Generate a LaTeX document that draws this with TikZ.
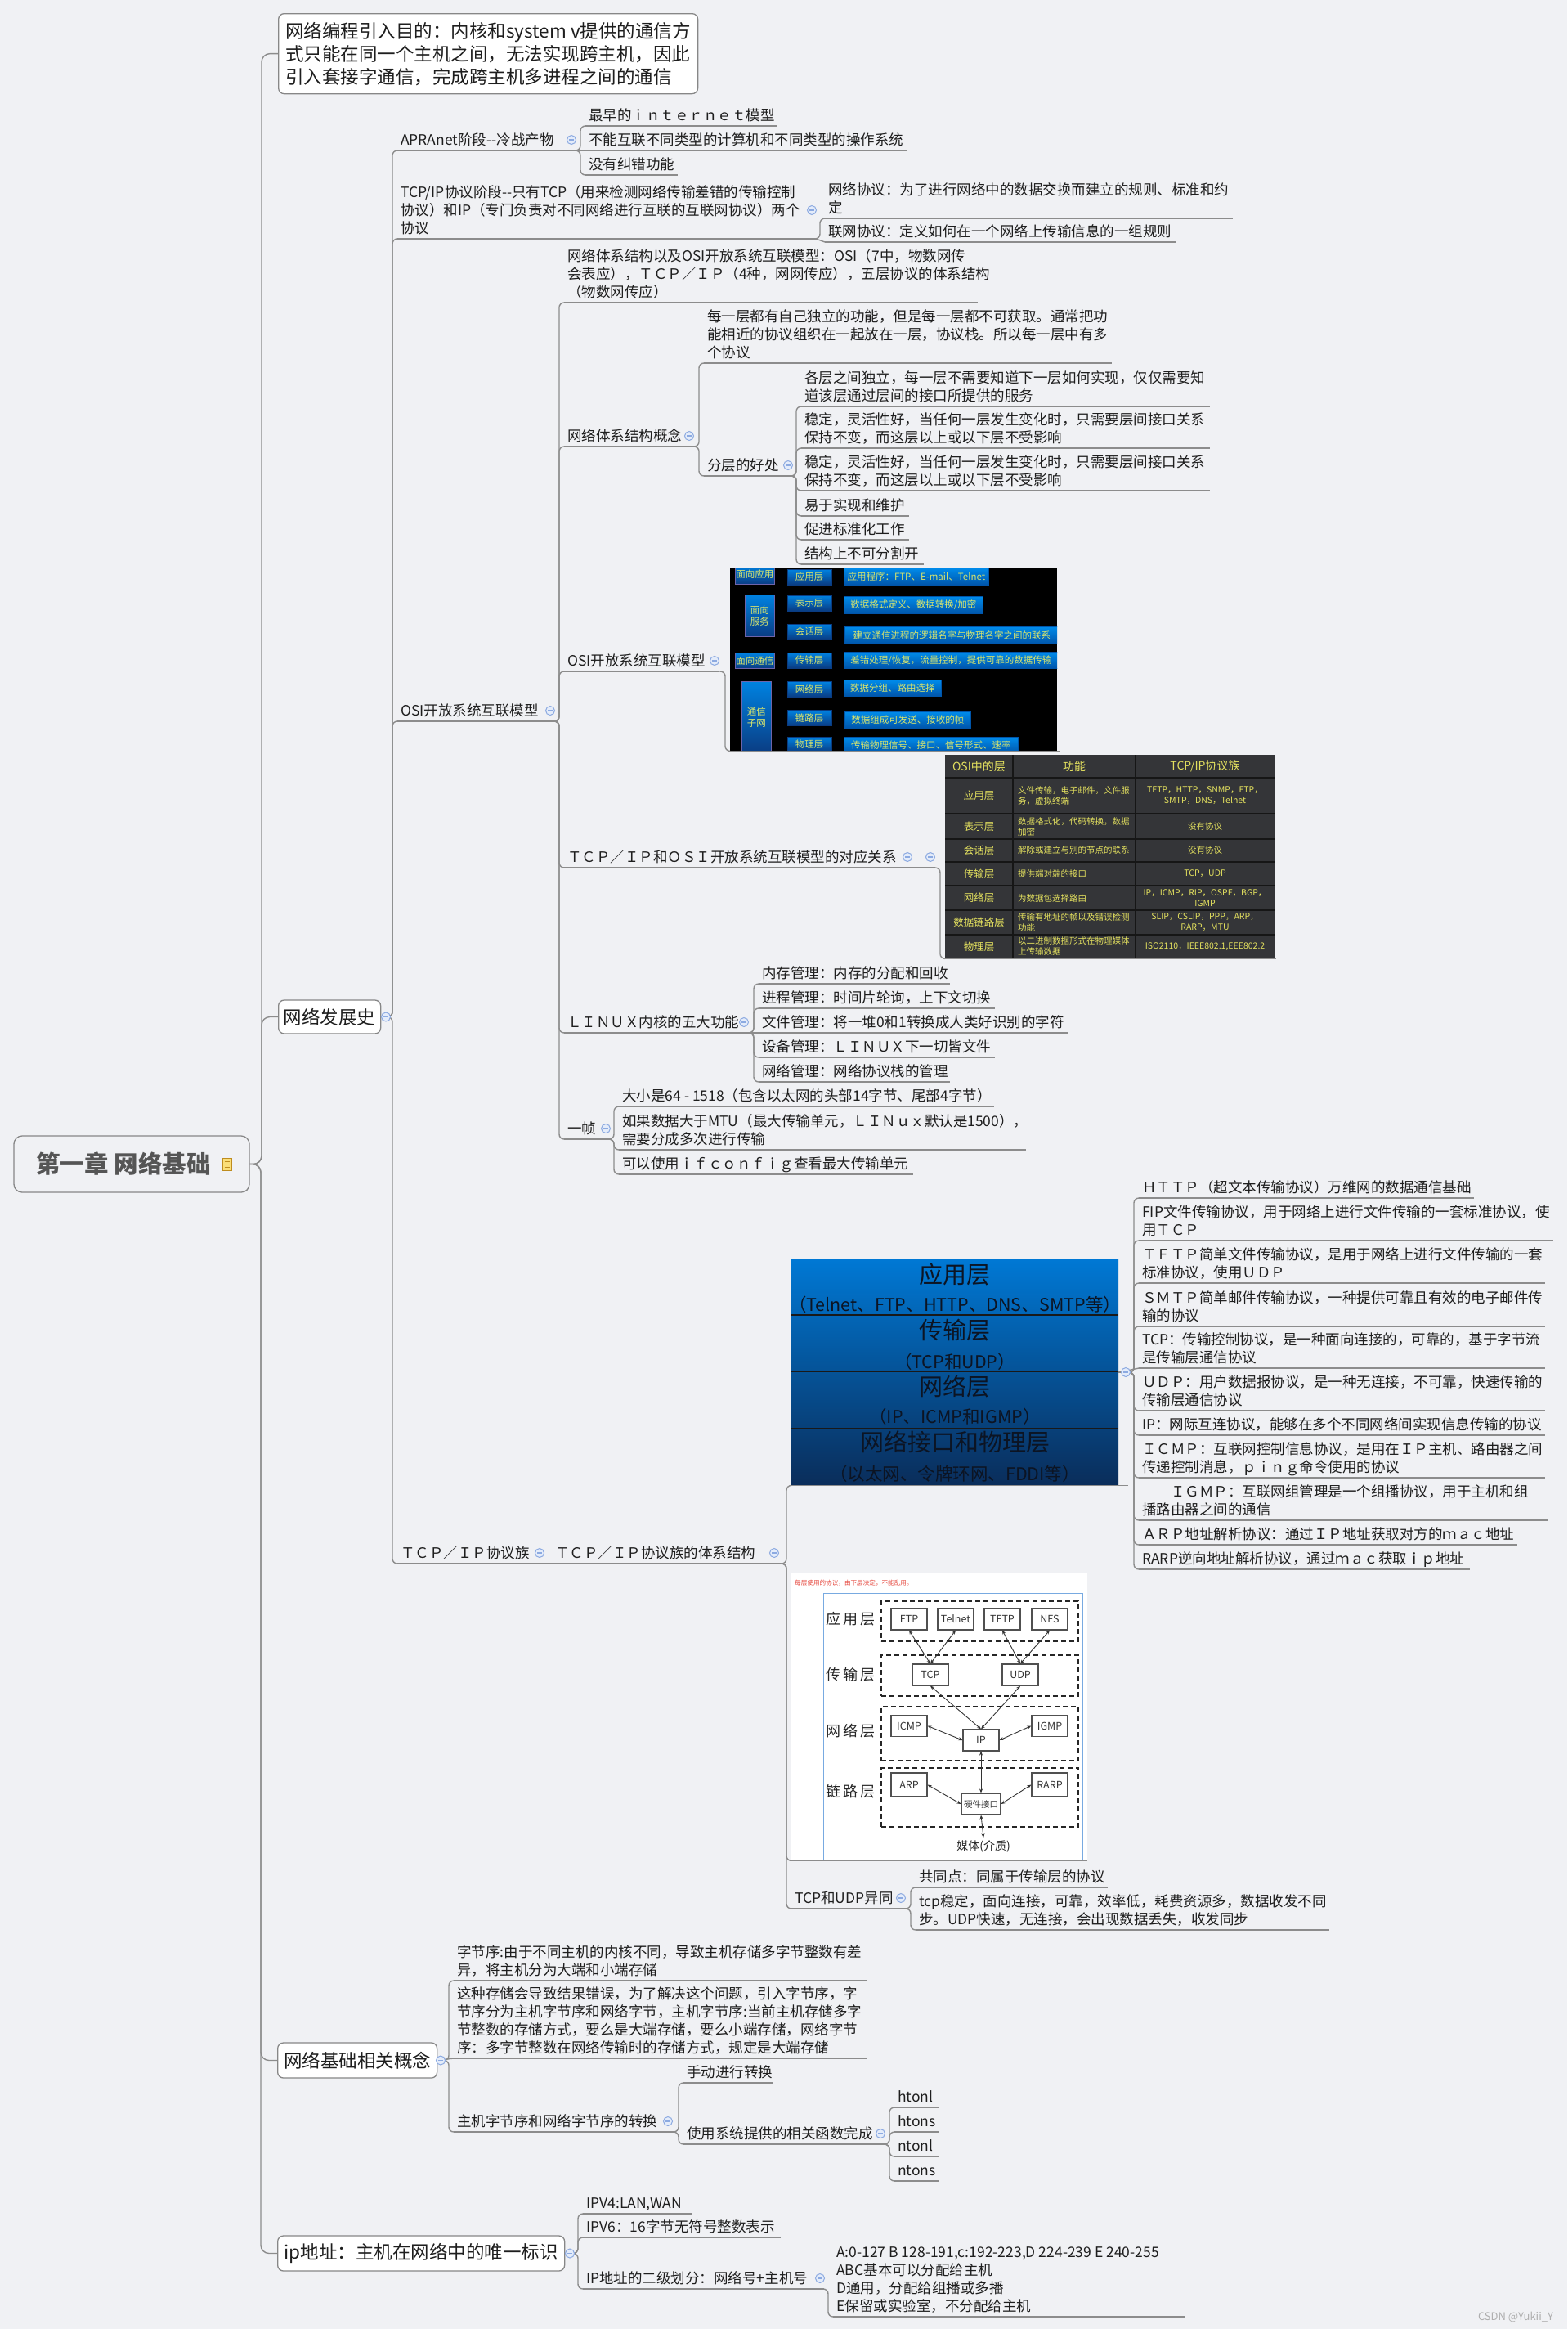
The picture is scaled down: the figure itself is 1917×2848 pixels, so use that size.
\documentclass[tikz,border=0pt]{standalone}
\usepackage{fontspec}
\setmainfont{Noto Sans CJK SC}
\usetikzlibrary{arrows.meta}
\definecolor{bg}{RGB}{240,241,244}
\definecolor{linec}{RGB}{140,140,140}
\definecolor{boxc}{RGB}{135,135,135}
\definecolor{txtc}{RGB}{30,30,30}
\definecolor{rootc}{RGB}{85,85,85}
\definecolor{icf}{RGB}{228,236,250}
\definecolor{icd}{RGB}{140,170,225}
\definecolor{notef}{RGB}{250,222,120}
\definecolor{notec}{RGB}{190,140,30}
\definecolor{ob1}{RGB}{0,130,225}
\definecolor{ob2}{RGB}{10,60,130}
\definecolor{od1}{RGB}{0,140,235}
\definecolor{od2}{RGB}{0,85,170}
\definecolor{oyt}{RGB}{215,228,110}
\definecolor{opur}{RGB}{110,100,170}
\definecolor{tbg}{RGB}{52,53,56}
\definecolor{tgrid}{RGB}{22,22,22}
\definecolor{tyt}{RGB}{228,225,95}
\definecolor{lb1}{RGB}{0,120,212}
\definecolor{lb2}{RGB}{10,45,90}
\definecolor{ltx}{RGB}{12,20,35}
\definecolor{redt}{RGB}{230,70,60}
\definecolor{frm}{RGB}{120,170,225}
\definecolor{pbd}{RGB}{80,80,80}
\definecolor{wmc}{RGB}{175,175,175}
\newcommand\fsz[2]{\fontsize{#1}{#2}\selectfont}
\tikzset{
 conn/.style={draw=linec,line width=1.4pt,rounded corners=6pt},
 ulc/.style={draw=linec,line width=1.4pt},
 leaf/.style={anchor=south west,inner xsep=4pt,inner ysep=0pt,align=left,font=\fsz{17.5}{22},text=txtc,execute at end node=\strut},
 tbox/.style={draw=boxc,line width=1.3pt,rounded corners=7pt,fill=white,inner sep=0pt,font=\fsz{22.5}{28},text=txtc,align=left},
 rootbox/.style={draw=boxc,line width=1.3pt,rounded corners=10pt,inner sep=0pt,minimum width=288pt,minimum height=69pt},
 roottext/.style={inner sep=0pt,font=\fsz{29.5}{34}\bfseries,text=rootc},
 osg/.style={draw=opur,line width=0.8pt,top color=ob1,bottom color=ob2,text=oyt,font=\fsz{11.5}{14},inner sep=0pt,align=center,anchor=north west},
 osl/.style={draw=ob2,line width=0.8pt,top color=ob1,bottom color=ob2,text=oyt,font=\fsz{11.5}{13},inner sep=0pt,minimum width=54pt,minimum height=19pt},
 osd/.style={draw=od2,line width=0.6pt,top color=od1,bottom color=od2,text=oyt,font=\fsz{11.5}{13},inner sep=0pt,anchor=north west},
 tbh/.style={text=tyt,font=\fsz{14}{16}},
 tb1/.style={text=tyt,font=\fsz{12.5}{15}},
 tb2/.style={text=tyt,font=\fsz{10.5}{13},anchor=west,align=left,inner sep=0pt},
 tb3/.style={text=tyt,font=\fsz{10.5}{13},align=center,inner sep=0pt},
 ltit/.style={text=ltx,font=\fsz{29}{32}},
 lsub/.style={text=ltx,font=\fsz{21.5}{24}},
 dlay/.style={draw=black!85,dashed,dash pattern=on 6pt off 4pt,line width=1.6pt,anchor=north west,inner sep=0pt},
 pbox/.style={draw=pbd,line width=1.2pt,fill=white,minimum width=44pt,minimum height=26pt,inner sep=0pt,font=\fsz{12.5}{14},text=black!80},
 parr/.style={{Stealth[length=5pt,width=4pt]}-{Stealth[length=5pt,width=4pt]},line width=0.9pt,draw=black!80},
 llab/.style={font=\fsz{18}{20},text=black!85},
}
\newcommand\lf[5]{\node[leaf] (#1) at (#2,#3) {#5}; \coordinate (#1-e) at (#4,#3); \draw[ulc] (#1.south west) -- (#1-e);}
\newcommand\lnk[2]{\draw[conn] (#1) -| ([xshift=-6pt]#2.south west) -- (#2.south west);}
\newcommand\lns[2]{\draw[conn] (#1) -- (#2.south west);}
\newcommand\icn[2]{\fill[icf,draw=icd,line width=1pt] (#1,#2) circle[radius=5.5]; \draw[icd,line width=1.2pt] ({#1-3},#2) -- ({#1+3},#2);}
\begin{document}
\begin{tikzpicture}[x=1pt,y=-1pt]
\useasboundingbox (0,0) rectangle (1917,2848);
\fill[bg] (0,0) rectangle (1917,2848);

% ---------- root and main boxes
\node[rootbox] (root) at (161,1423.5) {};
\node[roottext] (roott) at (151,1423.5) {第一章 网络基础};
\fill[notef,draw=notec,line width=0.8pt] (272,1416) rectangle (283,1431);
\draw[notec,line width=0.8pt] (274.5,1420)--(280.5,1420) (274.5,1423.5)--(280.5,1423.5) (274.5,1427)--(280.5,1427);

\node[tbox,anchor=north west,minimum width=513pt,minimum height=98pt] (purpose) at (340,16) {网络编程引入目的：内核和system v提供的通信方\\式只能在同一个主机之间，无法实现跨主机，因此\\引入套接字通信，完成跨主机多进程之间的通信};
\node[tbox,anchor=west,minimum width=125pt,minimum height=41pt] (hist) at (340,1243.5) {网络发展史};
\node[tbox,anchor=west,minimum width=195pt,minimum height=43pt] (basic) at (339,2519.5) {网络基础相关概念};
\node[tbox,anchor=west,minimum width=351pt,minimum height=43pt] (ipaddr) at (339,2755.5) {ip地址：主机在网络中的唯一标识};
\foreach \t in {purpose,hist,basic,ipaddr}{\draw[conn,rounded corners=10pt] (root.east) -| ([xshift=-20pt]\t.west) -- (\t.west);}

% ---------- 网络发展史
\lf{apra}{486}{184}{705}{APRAnet阶段-{}-冷战产物}
\lf{tcpst}{486}{292}{998}{TCP/IP协议阶段-{}-只有TCP（用来检测网络传输差错的传输控制\\协议）和IP（专门负责对不同网络进行互联的互联网协议）两个\\协议}
\lf{osi}{486}{882}{679}{OSI开放系统互联模型}
\lf{tcpfam}{486}{1912}{668}{ＴＣＰ／ＩＰ协议族}
\foreach \c in {apra,tcpst,osi,tcpfam}{\lnk{hist.east}{\c}}

\lf{a1}{716}{154}{951}{最早的ｉｎｔｅｒｎｅｔ模型}
\lf{a2}{716}{184}{1109}{不能互联不同类型的计算机和不同类型的操作系统}
\lf{a3}{716}{214}{829}{没有纠错功能}
\lnk{apra-e}{a1} \lns{apra-e}{a2} \lnk{apra-e}{a3}

\lf{b1}{1009}{267}{1508}{网络协议：为了进行网络中的数据交换而建立的规则、标准和约\\定}
\lf{b2}{1009}{296}{1439}{联网协议：定义如何在一个网络上传输信息的一组规则}
\lnk{tcpst-e}{b1} \lns{tcpst-e}{b2}

% ---------- OSI 开放系统互联模型
\lf{c1}{690}{370}{1196}{网络体系结构以及OSI开放系统互联模型：OSI（7中，物数网传\\会表应），ＴＣＰ／ＩＰ（4种，网网传应），五层协议的体系结构\\（物数网传应）}
\lf{c2}{690}{546}{850}{网络体系结构概念}
\lf{c3}{690}{821}{880}{OSI开放系统互联模型}
\lf{c4}{690}{1061}{1144}{ＴＣＰ／ＩＰ和ＯＳＩ开放系统互联模型的对应关系}
\lf{c5}{690}{1263}{917}{ＬＩＮＵＸ内核的五大功能}
\lf{c6}{690}{1393}{746}{一帧}
\foreach \c in {c1,c2,c3,c4,c5,c6}{\lnk{osi-e}{\c}}

\lf{c2a}{861}{444}{1360}{每一层都有自己独立的功能，但是每一层都不可获取。通常把功\\能相近的协议组织在一起放在一层，协议栈。所以每一层中有多\\个协议}
\lf{c2b}{861}{582}{969}{分层的好处}
\lnk{c2-e}{c2a} \lnk{c2-e}{c2b}

\lf{c2b1}{980}{497}{1480}{各层之间独立，每一层不需要知道下一层如何实现，仅仅需要知\\道该层通过层间的接口所提供的服务}
\lf{c2b2}{980}{548}{1480}{稳定，灵活性好，当任何一层发生变化时，只需要层间接口关系\\保持不变，而这层以上或以下层不受影响}
\lf{c2b3}{980}{600}{1480}{稳定，灵活性好，当任何一层发生变化时，只需要层间接口关系\\保持不变，而这层以上或以下层不受影响}
\lf{c2b4}{980}{631}{1112}{易于实现和维护}
\lf{c2b5}{980}{660}{1112}{促进标准化工作}
\lf{c2b6}{980}{690}{1130}{结构上不可分割开}
\foreach \c in {c2b1,c2b2,c2b3,c2b4,c2b5,c2b6}{\lnk{c2b-e}{\c}}

% OSI image
\node[fill=black,inner sep=0pt,minimum width=400pt,minimum height=224pt,anchor=north west] (osiimg) at (893,694) {};
\begin{scope}
\clip (893,694) rectangle (1293,918);
\node[osg,minimum width=48pt,minimum height=24pt] (og1) at (899,690) {面向应用};
\node[osg,minimum width=36pt,minimum height=51pt] (og2) at (911,727) {面向\\服务};
\node[osg,minimum width=48pt,minimum height=19pt] (og3) at (899,798) {面向通信};
\node[osg,minimum width=36pt,minimum height=88pt] (og4) at (907,833) {通信\\子网};
\node[osl] (ol1) at (990,705.5) {应用层};
\node[osl] (ol2) at (990,737.5) {表示层};
\node[osl] (ol3) at (990,772.5) {会话层};
\node[osl] (ol4) at (990,807.5) {传输层};
\node[osl] (ol5) at (990,843) {网络层};
\node[osl] (ol6) at (990,878) {链路层};
\node[osl] (ol7) at (990,910.5) {物理层};
\node[osd,minimum width=177pt,minimum height=21pt] (od1) at (1032,694) {应用程序：FTP、E-mail、Telnet};
\node[osd,minimum width=170pt,minimum height=21pt] (od2) at (1032,729) {数据格式定义、数据转换/加密};
\node[osd,minimum width=262pt,minimum height=21pt] (od3) at (1033,766) {建立通信进程的逻辑名字与物理名字之间的联系};
\node[osd,minimum width=262pt,minimum height=20pt] (od4) at (1032,797) {差错处理/恢复，流量控制，提供可靠的数据传输};
\node[osd,minimum width=119pt,minimum height=20pt] (od5) at (1032,831) {数据分组、路由选择};
\node[osd,minimum width=154pt,minimum height=20pt] (od6) at (1033,870) {数据组成可发送、接收的帧};
\node[osd,minimum width=213pt,minimum height=20pt] (od7) at (1032,901) {传输物理信号、接口、信号形式、速率};
\end{scope}
\lnk{c3-e}{osiimg}
\draw[ulc] (osiimg.south west) -- ([xshift=4pt]osiimg.south east);

% Table image
\node[fill=tbg,inner sep=0pt,minimum width=403pt,minimum height=249pt,anchor=north west] (tblimg) at (1156,923) {};
\draw[tgrid,line width=1.5pt] (1239,923)--(1239,1172) (1389,923)--(1389,1172);
\foreach \yy in {951,995,1026,1054,1083,1113,1143}{\draw[tgrid,line width=1.5pt] (1156,\yy)--(1559,\yy);}
\node[tbh] (th1) at (1197.5,937) {OSI中的层};
\node[tbh] (th2) at (1314,937) {功能};
\node[tbh] (th3) at (1474,937) {TCP/IP协议族};
\node[tb1] (r1a) at (1197.5,973) {应用层};
\node[tb2] (r1b) at (1245,973) {文件传输，电子邮件，文件服\\务，虚拟终端};
\node[tb3] (r1c) at (1474,973) {TFTP，HTTP，SNMP，FTP，\\SMTP，DNS，Telnet};
\node[tb1] (r2a) at (1197.5,1010.5) {表示层};
\node[tb2] (r2b) at (1245,1010.5) {数据格式化，代码转换，数据\\加密};
\node[tb3] (r2c) at (1474,1010.5) {没有协议};
\node[tb1] (r3a) at (1197.5,1040) {会话层};
\node[tb2] (r3b) at (1245,1040) {解除或建立与别的节点的联系};
\node[tb3] (r3c) at (1474,1040) {没有协议};
\node[tb1] (r4a) at (1197.5,1068.5) {传输层};
\node[tb2] (r4b) at (1245,1068.5) {提供端对端的接口};
\node[tb3] (r4c) at (1474,1068.5) {TCP，UDP};
\node[tb1] (r5a) at (1197.5,1098) {网络层};
\node[tb2] (r5b) at (1245,1098) {为数据包选择路由};
\node[tb3] (r5c) at (1474,1098) {IP，ICMP，RIP，OSPF，BGP，\\IGMP};
\node[tb1] (r6a) at (1197.5,1128) {数据链路层};
\node[tb2] (r6b) at (1245,1128) {传输有地址的帧以及错误检测\\功能};
\node[tb3] (r6c) at (1474,1128) {SLIP，CSLIP，PPP，ARP，\\RARP，MTU};
\node[tb1] (r7a) at (1197.5,1157.5) {物理层};
\node[tb2] (r7b) at (1245,1157.5) {以二进制数据形式在物理媒体\\上传输数据};
\node[tb3] (r7c) at (1474,1157.5) {ISO2110，IEEE802.1,EEE802.2};
\lnk{c4-e}{tblimg}
\draw[ulc] (tblimg.south west) -- ([xshift=2pt]tblimg.south east);

% LINUX
\lf{c5a}{928}{1203}{1162}{内存管理：内存的分配和回收}
\lf{c5b}{928}{1233}{1217}{进程管理：时间片轮询，上下文切换}
\lf{c5c}{928}{1263}{1306}{文件管理：将一堆0和1转换成人类好识别的字符}
\lf{c5d}{928}{1293}{1217}{设备管理：ＬＩＮＵＸ下一切皆文件}
\lf{c5e}{928}{1323}{1162}{网络管理：网络协议栈的管理}
\lnk{c5-e}{c5a} \lnk{c5-e}{c5b} \lns{c5-e}{c5c} \lnk{c5-e}{c5d} \lnk{c5-e}{c5e}

% 一帧
\lf{c6a}{757}{1353}{1216}{大小是64 - 1518（包含以太网的头部14字节、尾部4字节）}
\lf{c6b}{757}{1406}{1255}{如果数据大于MTU（最大传输单元，ＬＩＮｕｘ默认是1500），\\需要分成多次进行传输}
\lf{c6c}{757}{1436}{1117}{可以使用ｉｆｃｏｎｆｉｇ查看最大传输单元}
\lnk{c6-e}{c6a} \lnk{c6-e}{c6b} \lnk{c6-e}{c6c}

% ---------- TCP/IP 协议族
\lf{tcparch}{675}{1912}{955}{ＴＣＰ／ＩＰ协议族的体系结构}
\lns{tcpfam-e}{tcparch}

% layer image
\node[top color=lb1,bottom color=lb2,inner sep=0pt,minimum width=400pt,minimum height=276pt,anchor=north west] (layerimg) at (968,1540) {};
\draw[black!90,line width=1.5pt] (968,1608)--(1368,1608) (968,1677)--(1368,1677) (968,1747)--(1368,1747);
\node[ltit] (lt1) at (1168,1558) {应用层};
\node[lsub] (ls1) at (1168,1595) {（Telnet、FTP、HTTP、DNS、SMTP等）};
\node[ltit] (lt2) at (1168,1627) {传输层};
\node[lsub] (ls2) at (1168,1665) {（TCP和UDP）};
\node[ltit] (lt3) at (1168,1695) {网络层};
\node[lsub] (ls3) at (1168,1732) {（IP、ICMP和IGMP）};
\node[ltit] (lt4) at (1168,1763) {网络接口和物理层};
\node[lsub] (ls4) at (1168,1802) {（以太网、令牌环网、FDDI等）};
\lnk{tcparch-e}{layerimg}
\draw[ulc] (layerimg.south west) -- ([xshift=12pt]layerimg.south east);

% TCP/IP diagram image
\node[fill=white,inner sep=0pt,minimum width=362pt,minimum height=352pt,anchor=north west] (tcpimg) at (968,1923) {};
\node[anchor=west,inner sep=0pt,font=\fsz{7.6}{9},text=redt] (rednote) at (972,1936) {每层使用的协议，由下层决定，不能乱用。};
\node[draw=frm,line width=1pt,minimum width=317pt,minimum height=326pt,anchor=north west,inner sep=0pt] (frame) at (1007,1948) {};
\node[dlay,minimum width=241pt,minimum height=49pt] (dl1) at (1077,1957) {};
\node[dlay,minimum width=241pt,minimum height=50pt] (dl2) at (1077,2023) {};
\node[dlay,minimum width=241pt,minimum height=66pt] (dl3) at (1077,2086) {};
\node[dlay,minimum width=241pt,minimum height=72pt] (dl4) at (1077,2161) {};
\node[llab] (la1) at (1040,1980) {应\hspace{3pt}用\hspace{3pt}层};
\node[llab] (la2) at (1040,2048) {传\hspace{3pt}输\hspace{3pt}层};
\node[llab] (la3) at (1040,2117) {网\hspace{3pt}络\hspace{3pt}层};
\node[llab] (la4) at (1040,2191) {链\hspace{3pt}路\hspace{3pt}层};
\node[pbox] (ftp) at (1112,1980) {FTP};
\node[pbox] (telnet) at (1169,1980) {Telnet};
\node[pbox] (tftp) at (1226,1980) {TFTP};
\node[pbox] (nfs) at (1284,1980) {NFS};
\node[pbox] (tcp) at (1138,2048) {TCP};
\node[pbox] (udp) at (1248,2048) {UDP};
\node[pbox] (icmp) at (1112,2110.5) {ICMP};
\node[pbox] (ip) at (1200,2128) {IP};
\node[pbox] (igmp) at (1284,2110.5) {IGMP};
\node[pbox,minimum height=29pt] (arp) at (1112,2182.5) {ARP};
\node[pbox,minimum width=48pt,font=\fsz{10.5}{12}] (hw) at (1200,2206) {硬件接口};
\node[pbox,minimum height=29pt] (rarp) at (1284,2182.5) {RARP};
\node[font=\fsz{14}{16},text=black!85] (media) at (1203,2258) {媒体(介质)};
\draw[parr] (ftp.south) -- (tcp.north);
\draw[parr] (telnet.south) -- (tcp.north);
\draw[parr] (tftp.south) -- (udp.north);
\draw[parr] (nfs.south) -- (udp.north);
\draw[parr] (tcp.south) -- (ip.north);
\draw[parr] (udp.south) -- (ip.north);
\draw[parr] (icmp.east) -- (ip.west);
\draw[parr] (igmp.west) -- (ip.east);
\draw[parr] (ip.south) -- (hw.north);
\draw[parr] (arp.east) -- (hw.west);
\draw[parr] (rarp.west) -- (hw.east);
\draw[parr] (hw.south) -- (media.north);
\lnk{tcparch-e}{tcpimg}
\draw[ulc] (tcpimg.south west) -- (tcpimg.south east);

% TCP和UDP异同
\lf{tcpudp}{968}{2334}{1109}{TCP和UDP异同}
\lnk{tcparch-e}{tcpudp}
\lf{t1}{1120}{2308}{1355}{共同点：同属于传输层的协议}
\lf{t2}{1120}{2360}{1626}{tcp稳定，面向连接，可靠，效率低，耗费资源多，数据收发不同\\步。UDP快速，无连接，会出现数据丢失，收发同步}
\lnk{tcpudp-e}{t1} \lnk{tcpudp-e}{t2}

% protocol list
\lf{p1}{1393}{1465}{1803}{ＨＴＴＰ（超文本传输协议）万维网的数据通信基础}
\lf{p2}{1393}{1517}{1900}{FIP文件传输协议，用于网络上进行文件传输的一套标准协议，使\\用ＴＣＰ}
\lf{p3}{1393}{1569}{1890}{ＴＦＴＰ简单文件传输协议，是用于网络上进行文件传输的一套\\标准协议，使用ＵＤＰ}
\lf{p4}{1393}{1622}{1890}{ＳＭＴＰ简单邮件传输协议，一种提供可靠且有效的电子邮件传\\输的协议}
\lf{p5}{1393}{1673}{1890}{TCP：传输控制协议，是一种面向连接的，可靠的，基于字节流\\是传输层通信协议}
\lf{p6}{1393}{1725}{1890}{ＵＤＰ：用户数据报协议，是一种无连接，不可靠，快速传输的\\传输层通信协议}
\lf{p7}{1393}{1755}{1890}{IP：网际互连协议，能够在多个不同网络间实现信息传输的协议}
\lf{p8}{1393}{1807}{1890}{ＩＣＭＰ：互联网控制信息协议，是用在ＩＰ主机、路由器之间\\传递控制消息，ｐｉｎｇ命令使用的协议}
\lf{p9}{1393}{1859}{1894}{　　ＩＧＭＰ：互联网组管理是一个组播协议，用于主机和组\\播路由器之间的通信}
\lf{p10}{1393}{1889}{1856}{ＡＲＰ地址解析协议：通过ＩＰ地址获取对方的ｍａｃ地址}
\lf{p11}{1393}{1919}{1798}{RARP逆向地址解析协议，通过ｍａｃ获取ｉｐ地址}
\foreach \c in {p1,p2,p3,p4,p6,p7,p8,p9,p10,p11}{\lnk{layerimg.east}{\c}}
\lns{layerimg.east}{p5}

% ---------- 网络基础相关概念
\lf{n1}{555}{2422}{1060}{字节序:由于不同主机的内核不同，导致主机存储多字节整数有差\\异，将主机分为大端和小端存储}
\lf{n2}{555}{2517}{1060}{这种存储会导致结果错误，为了解决这个问题，引入字节序，字\\节序分为主机字节序和网络字节，主机字节序:当前主机存储多字\\节整数的存储方式，要么是大端存储，要么小端存储，网络字节\\序：多字节整数在网络传输时的存储方式，规定是大端存储}
\lf{n3}{555}{2607}{825}{主机字节序和网络字节序的转换}
\lnk{basic.east}{n1} \lns{basic.east}{n2} \lnk{basic.east}{n3}
\lf{n3a}{836}{2547}{946}{手动进行转换}
\lf{n3b}{836}{2622}{1083}{使用系统提供的相关函数完成}
\lnk{n3-e}{n3a} \lnk{n3-e}{n3b}
\lf{f1}{1094}{2577}{1148}{htonl}
\lf{f2}{1094}{2607}{1148}{htons}
\lf{f3}{1094}{2637}{1148}{ntonl}
\lf{f4}{1094}{2667}{1148}{ntons}
\foreach \c in {f1,f2,f3,f4}{\lnk{n3b-e}{\c}}

% ---------- ip地址
\lf{i1}{713}{2707}{846}{IPV4:LAN,WAN}
\lf{i2}{713}{2736}{955}{IPV6：16字节无符号整数表示}
\lf{i3}{713}{2799}{1008}{IP地址的二级划分：网络号+主机号}
\lnk{ipaddr.east}{i1} \lnk{ipaddr.east}{i2} \lnk{ipaddr.east}{i3}
\lf{i3a}{1019}{2833}{1450}{A:0-127 B 128-191,c:192-223,D 224-239 E 240-255\\ABC基本可以分配给主机\\D通用，分配给组播或多播\\E保留或实验室，不分配给主机}
\lnk{i3-e}{i3a}

% ---------- collapse icons
\icn{472}{1243.5} \icn{699}{171} \icn{993}{257} \icn{673}{869} \icn{843}{533}
\icn{964}{569} \icn{874}{808} \icn{1110}{1048} \icn{1138}{1048} \icn{910}{1250}
\icn{741}{1380} \icn{660}{1899} \icn{947}{1899} \icn{1377}{1678} \icn{1102}{2321}
\icn{539}{2519.5} \icn{817}{2594} \icn{1077}{2609} \icn{697}{2755.5} \icn{1003}{2786}

% watermark
\node[font=\fsz{13}{15},text=wmc] (wm) at (1854,2833) {CSDN @Yukii\_Y};
\end{tikzpicture}
\end{document}
